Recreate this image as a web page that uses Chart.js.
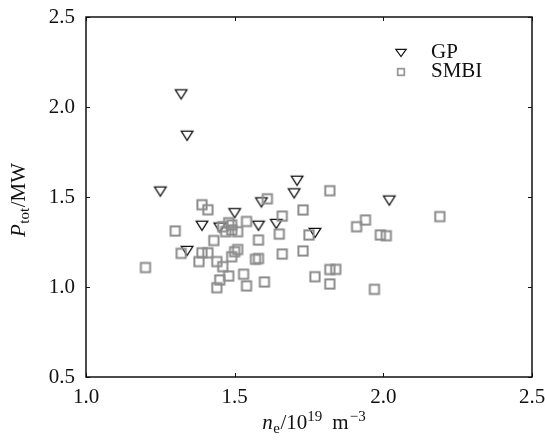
<!DOCTYPE html>
<html>
<head>
<meta charset="utf-8">
<script src="https://cdn.jsdelivr.net/npm/chart.js@4.4.1/dist/chart.umd.min.js"></script>
<style>
  html, body { margin: 0; padding: 0; background: #ffffff; }
  #wrap { width: 545px; height: 441px; }
</style>
</head>
<body>
<div id="wrap"><canvas id="c" width="545" height="441"></canvas></div>
<script>
// ---- data ----
const gpLabel = 'GP';
const gpX = [1.32, 1.34, 1.25, 1.71, 1.70, 1.59, 1.50, 1.39, 1.58, 1.64, 1.77, 1.34, 2.02, 1.45];
const gpY = [2.07, 1.84, 1.53, 1.59, 1.52, 1.47, 1.41, 1.34, 1.34, 1.35, 1.30, 1.20, 1.48, 1.33];

const smbiLabel = 'SMBI';
const smbiX = [1.82, 1.61, 1.39, 1.41, 1.73, 1.66, 1.54, 1.30, 1.48, 1.49, 1.49, 1.51, 1.47, 1.46,
               1.58, 1.65, 1.75, 1.43, 1.32, 1.39, 1.41, 1.38, 1.44, 1.46, 1.49, 1.50, 1.51, 1.57,
               1.58, 1.66, 1.73, 1.48, 1.53, 1.45, 1.54, 1.44, 1.60, 1.77, 1.82, 1.84, 1.82, 1.20,
               2.19, 1.94, 1.91, 1.99, 2.01, 1.97];
const smbiY = [1.535, 1.49, 1.457, 1.429, 1.428, 1.394, 1.364, 1.311, 1.357, 1.344, 1.317, 1.307, 1.307, 1.335,
               1.261, 1.294, 1.289, 1.258, 1.187, 1.19, 1.19, 1.141, 1.141, 1.113, 1.168, 1.196, 1.208, 1.154,
               1.158, 1.183, 1.20, 1.061, 1.071, 1.039, 1.006, 0.996, 1.028, 1.057, 1.097, 1.098, 1.017, 1.108,
               1.391, 1.372, 1.335, 1.289, 1.285, 0.987];

const xTicks = [1.0, 1.5, 2.0, 2.5];
const yTicks = [0.5, 1.0, 1.5, 2.0, 2.5];

// ---- marker images ----
function triMarker(hw, hh, lw, w, h) {
  const c = document.createElement('canvas');
  c.width = w; c.height = h;
  const g = c.getContext('2d');
  const cx = w / 2, cy = h / 2;
  g.beginPath();
  g.moveTo(cx - hw, cy - hh);
  g.lineTo(cx + hw, cy - hh);
  g.lineTo(cx, cy + hh);
  g.closePath();
  g.lineWidth = lw;
  g.lineJoin = 'miter';
  g.strokeStyle = '#111111';
  g.stroke();
  return c;
}
function sqMarker(half, lw, w, color) {
  const c = document.createElement('canvas');
  c.width = w; c.height = w;
  const g = c.getContext('2d');
  const cx = w / 2;
  g.lineWidth = lw;
  g.strokeStyle = color;
  g.strokeRect(cx - half, cx - half, 2 * half, 2 * half);
  return c;
}
const triImg = triMarker(5.8, 4.6, 1.3, 18, 16);
const sqImg = sqMarker(4.6, 2, 14, '#8c8c8c');
const triLegend = triMarker(5.2, 3.6, 1.2, 16, 12);
const sqLegend = sqMarker(3.3, 1.8, 12, '#999999');

const FONT = "'Liberation Serif', 'DejaVu Serif', serif";

// ---- frame + inward ticks ----
const framePlugin = {
  id: 'frame',
  afterDatasetsDraw(chart) {
    const { ctx, chartArea: a, scales } = chart;
    ctx.save();
    ctx.strokeStyle = '#111111';
    ctx.lineWidth = 1.5;
    ctx.strokeRect(a.left, a.top, a.right - a.left, a.bottom - a.top);
    ctx.lineWidth = 1;
    const tl = 4;
    ctx.beginPath();
    xTicks.forEach(v => {
      const px = Math.round(scales.x.getPixelForValue(v)) + 0.5;
      ctx.moveTo(px, a.bottom); ctx.lineTo(px, a.bottom - tl);
      ctx.moveTo(px, a.top); ctx.lineTo(px, a.top + tl);
    });
    yTicks.forEach(v => {
      const py = Math.round(scales.y.getPixelForValue(v)) + 0.5;
      ctx.moveTo(a.left, py); ctx.lineTo(a.left + tl, py);
      ctx.moveTo(a.right, py); ctx.lineTo(a.right - tl, py);
    });
    ctx.stroke();
    ctx.restore();
  }
};

// ---- axis titles with sub/superscripts ----
function drawRuns(ctx, runs, x, y) {
  runs.forEach(r => {
    ctx.font = r.font;
    ctx.fillText(r.t, x, y + (r.dy || 0));
    x += ctx.measureText(r.t).width + (r.gap || 0);
  });
}
function runsWidth(ctx, runs) {
  let w = 0;
  runs.forEach(r => { ctx.font = r.font; w += ctx.measureText(r.t).width + (r.gap || 0); });
  return w;
}
const titlePlugin = {
  id: 'titles',
  afterDraw(chart) {
    const { ctx, chartArea: a } = chart;
    ctx.save();
    ctx.fillStyle = '#111111';
    ctx.textBaseline = 'alphabetic';
    ctx.textAlign = 'left';
    const big = '21px ' + FONT, ital = 'italic 21px ' + FONT, small = '15px ' + FONT;
    const xr = [
      { t: 'n', font: ital, gap: 0.5 },
      { t: 'e', font: small, dy: 4, gap: 0.5 },
      { t: '/10', font: big },
      { t: '19', font: small, dy: -8, gap: 10 },
      { t: 'm', font: big, gap: 1 },
      { t: '\u22123', font: small, dy: -8 }
    ];
    const xw = runsWidth(ctx, xr);
    drawRuns(ctx, xr, (a.left + a.right) / 2 + 5 - xw / 2, 429);

    const yr = [
      { t: 'P', font: ital, gap: 0.5 },
      { t: 'tot', font: small, dy: 4, gap: 0.5 },
      { t: '/MW', font: big }
    ];
    const yw = runsWidth(ctx, yr);
    ctx.translate(25, 200);
    ctx.rotate(-Math.PI / 2);
    drawRuns(ctx, yr, -yw / 2, 0);
    ctx.restore();
  }
};

// ---- legend ----
const legendPlugin = {
  id: 'legendBox',
  afterDraw(chart) {
    const { ctx } = chart;
    const ds = chart.data.datasets;
    const entries = [
      { img: triLegend, label: ds[1].label, y: 53 },
      { img: sqLegend, label: ds[0].label, y: 72 }
    ];
    ctx.save();
    ctx.fillStyle = '#111111';
    ctx.font = '21px ' + FONT;
    ctx.textBaseline = 'middle';
    ctx.textAlign = 'left';
    entries.forEach(e => {
      ctx.drawImage(e.img, 401 - e.img.width / 2, e.y - e.img.height / 2);
      ctx.fillText(e.label, 431, e.y - 1);
    });
    ctx.restore();
  }
};

const toPts = (xs, ys) => xs.map((x, i) => ({ x: x, y: ys[i] }));

new Chart(document.getElementById('c'), {
  type: 'scatter',
  data: {
    datasets: [
      { label: smbiLabel, data: toPts(smbiX, smbiY), pointStyle: sqImg, pointRadius: 6, pointHoverRadius: 6 },
      { label: gpLabel, data: toPts(gpX, gpY), pointStyle: triImg, pointRadius: 6, pointHoverRadius: 6 }
    ]
  },
  options: {
    responsive: false,
    animation: false,
    devicePixelRatio: 1,
    layout: { padding: { top: 17, right: 13, left: 0, bottom: 0 } },
    plugins: { legend: { display: false }, tooltip: { enabled: false } },
    scales: {
      x: {
        type: 'linear', min: 1.0, max: 2.5,
        afterBuildTicks(s) { s.ticks = xTicks.map(v => ({ value: v })); },
        afterFit(s) { s.height = 64; s.paddingLeft = 0; s.paddingRight = 0; },
        grid: { display: false, drawTicks: false },
        border: { display: false },
        ticks: {
          padding: 8, color: '#111111', maxRotation: 0,
          font: { family: FONT, size: 21 },
          callback: v => Number(v).toFixed(1)
        }
      },
      y: {
        type: 'linear', min: 0.5, max: 2.5,
        afterBuildTicks(s) { s.ticks = yTicks.map(v => ({ value: v })); },
        afterFit(s) { s.width = 86; s.paddingTop = 0; s.paddingBottom = 0; },
        grid: { display: false, drawTicks: false },
        border: { display: false },
        ticks: {
          padding: 11, color: '#111111',
          font: { family: FONT, size: 21 },
          callback: v => Number(v).toFixed(1)
        }
      }
    }
  },
  plugins: [framePlugin, titlePlugin, legendPlugin]
});
</script>
</body>
</html>
